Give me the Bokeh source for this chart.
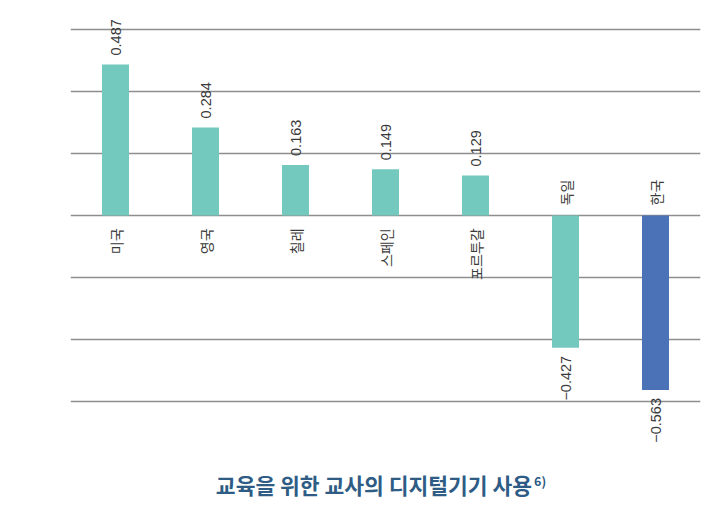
import math
from bokeh.plotting import figure
from bokeh.models import FixedTicker, ColumnDataSource, FactorRange, Range1d, Grid
from bokeh.embed import file_html
from bokeh.resources import INLINE
from bokeh.core.properties import value

categories = ["미국", "영국", "칠레", "스페인", "포르투갈", "독일", "한국"]
values = [0.487, 0.284, 0.163, 0.149, 0.129, -0.427, -0.563]
value_labels = ["0.487", "0.284", "0.163", "0.149", "0.129", "\u22120.427", "\u22120.563"]
highlight = "한국"
grid_ticks = [-0.6, -0.4, -0.2, 0.0, 0.2, 0.4, 0.6]
title_text = "교육을 위한 교사의 디지털기기 사용"
footnote = "6)"

TEAL = "#74C9BE"
BLUE = "#4B71B7"
TXT = "#3a3a3a"
TITLE_C = "#2e5c85"
KFONT = "Noto Sans CJK KR"
NFONT = "Liberation Sans"

colors = [BLUE if c == highlight else TEAL for c in categories]

p = figure(width=717, height=503, x_range=FactorRange(*categories),
           y_range=Range1d(-0.9291, 0.6935),
           x_axis_location=None, y_axis_location=None,
           min_border_left=70, min_border_right=17, min_border_top=0, min_border_bottom=0,
           output_backend="svg", toolbar_location=None)
p.outline_line_color = None
p.grid.visible = False
p.add_layout(Grid(dimension=1, ticker=FixedTicker(ticks=grid_ticks),
                  grid_line_color="#8e8e8e", grid_line_width=1.4), "center")

bars = ColumnDataSource(dict(x=categories, top=values, color=colors))
p.vbar(x="x", top="top", bottom=0, width=0.3, fill_color="color", line_color=None, source=bars)

def subset(cond):
    idx = [i for i, v in enumerate(values) if cond(v)]
    return ColumnDataSource(dict(
        x=[categories[i] for i in idx],
        y=[values[i] for i in idx],
        lab=[value_labels[i] for i in idx],
        zero=[0.0 for _ in idx],
    ))

pos = subset(lambda v: v >= 0)
neg = subset(lambda v: v < 0)

common = dict(angle=math.pi / 2, text_baseline="middle", text_color=TXT)

p.text(x="x", y="y", text="lab", source=pos, text_align="left", y_offset=-9,
       text_font=value(NFONT), text_font_size="14.5px", **common)
p.text(x="x", y="zero", text="x", source=pos, text_align="right", y_offset=13,
       text_font=value(KFONT), text_font_size="14px", **common)
p.text(x="x", y="y", text="lab", source=neg, text_align="right", y_offset=8,
       text_font=value(NFONT), text_font_size="14.5px", **common)
p.text(x="x", y="zero", text="x", source=neg, text_align="left", y_offset=-10,
       text_font=value(KFONT), text_font_size="14px", **common)

# title and its footnote mark, placed below the chart
p.text(x=[3.372], y=[-0.8677], text=[title_text], text_align="center",
       text_baseline="middle", text_font=value(KFONT), text_font_size="21.5px",
       text_font_style="bold", text_color=TITLE_C)
p.text(x=[5.15], y=[-0.854], text=[footnote], text_align="left",
       text_baseline="middle", text_font=value(KFONT), text_font_size="12.5px",
       text_font_style="bold", text_color=TITLE_C)

open("out.html", "w").write(file_html(p, INLINE))
